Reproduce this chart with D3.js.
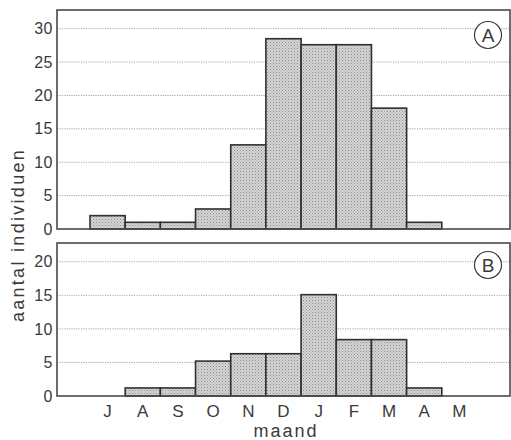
<!DOCTYPE html>
<head>
    <meta charset="utf-8">
    <title>maand</title>
    <script type="text/javascript" src="https://d3js.org/d3.v7.min.js"></script>
    <style>
        body { margin: 0; background: #fff; }
        text { font-family: "Liberation Sans", Arial, sans-serif; fill: #3a3a3a; }
    </style>
</head>
<body>
<div id="container"></div>
<script>
    //-----------------------------DATA------------------------------//
    const months = ["J", "A", "S", "O", "N", "D", "J2", "F", "M", "A2", "M2"];
    const monthLabels = ["J", "A", "S", "O", "N", "D", "J", "F", "M", "A", "M"];
    const valuesA = [2, 1, 1, 3, 12.6, 28.5, 27.6, 27.6, 18.1, 1, 0];
    const valuesB = [0, 1.2, 1.2, 5.2, 6.3, 6.3, 15.1, 8.4, 8.4, 1.2, 0];
    const ticksA = [0, 5, 10, 15, 20, 25, 30];
    const ticksB = [0, 5, 10, 15, 20];

    //-----------------------------SVG-------------------------------//
    const width = 511;
    const height = 440;
    const frameLeft = 57;
    const frameRight = 510;

    const svg = d3.select("div#container").append("svg")
        .attr("width", width)
        .attr("height", height);

    // stipple fill for the bars
    const pat = svg.append("defs").append("pattern")
        .attr("id", "stipple")
        .attr("width", 3)
        .attr("height", 3)
        .attr("patternUnits", "userSpaceOnUse");
    pat.append("rect").attr("width", 3).attr("height", 3).attr("fill", "#d6d6d6");
    pat.append("rect").attr("x", 0).attr("y", 0).attr("width", 1).attr("height", 1).attr("fill", "#8a8a8a");
    pat.append("rect").attr("x", 1.5).attr("y", 1.5).attr("width", 1).attr("height", 1).attr("fill", "#9a9a9a");

    const x = d3.scaleBand().domain(months).range([90, 477]).padding(0);

    //----------------------------PANELS-----------------------------//
    function panel(values, ticks, top, bottom, maxY, letter, letterY) {
        const y = d3.scaleLinear().domain([0, maxY]).range([bottom, top]);
        const g = svg.append("g");

        // dotted grid lines
        g.selectAll(".grid")
            .data(ticks.filter(t => t > 0))
            .enter()
            .append("line")
            .attr("x1", frameLeft)
            .attr("x2", frameRight)
            .attr("y1", d => y(d))
            .attr("y2", d => y(d))
            .attr("stroke", "#8c8c8c")
            .attr("stroke-width", 0.8)
            .attr("stroke-dasharray", "1.2,1.2");

        // bars
        g.selectAll(".bar")
            .data(values.map((v, i) => ({ m: months[i], v: v })).filter(d => d.v > 0))
            .enter()
            .append("rect")
            .attr("x", d => x(d.m))
            .attr("y", d => y(d.v))
            .attr("width", x.bandwidth())
            .attr("height", d => y(0) - y(d.v))
            .attr("fill", "url(#stipple)")
            .attr("stroke", "#303030")
            .attr("stroke-width", 1.6);

        // frame
        g.append("rect")
            .attr("x", frameLeft)
            .attr("y", top)
            .attr("width", frameRight - frameLeft)
            .attr("height", bottom - top)
            .attr("fill", "none")
            .attr("stroke", "#4a4a4a")
            .attr("stroke-width", 1.6);

        // y axis labels
        const yaxis = d3.axisLeft(y).tickValues(ticks).tickSize(0).tickPadding(4);
        const ax = g.append("g")
            .attr("transform", "translate(" + frameLeft + ",0)")
            .call(yaxis);
        ax.select(".domain").remove();
        ax.selectAll("text")
            .attr("font-size", 16)
            .style("font-family", "'Liberation Sans', Arial, sans-serif")
            .style("letter-spacing", "0.5px")
            .attr("fill", "#3a3a3a");

        // panel letter
        g.append("circle")
            .attr("cx", 488)
            .attr("cy", letterY)
            .attr("r", 13.5)
            .attr("fill", "#fff")
            .attr("stroke", "#3a3a3a")
            .attr("stroke-width", 1.2);
        g.append("text")
            .attr("x", 488)
            .attr("y", letterY + 7)
            .attr("text-anchor", "middle")
            .attr("font-size", 19)
            .text(letter);

        return y;
    }

    panel(valuesA, ticksA, 10, 229, 32.8, "A", 35);
    panel(valuesB, ticksB, 243, 396, 22.8, "B", 265);

    //-----------------------------AXES------------------------------//
    const xaxis = d3.axisBottom(x).tickSize(0).tickPadding(7)
        .tickFormat((d, i) => monthLabels[i]);
    const xg = svg.append("g")
        .attr("transform", "translate(0,398)")
        .call(xaxis);
    xg.select(".domain").remove();
    xg.selectAll("text")
        .attr("font-size", 17)
        .style("font-family", "'Liberation Sans', Arial, sans-serif")
        .attr("fill", "#3a3a3a");

    svg.append("text")
        .attr("x", 286)
        .attr("y", 437)
        .attr("text-anchor", "middle")
        .attr("font-size", 18)
        .style("letter-spacing", "2px")
        .text("maand");

    svg.append("text")
        .attr("transform", "rotate(-90)")
        .attr("x", -235)
        .attr("y", 24)
        .attr("text-anchor", "middle")
        .attr("font-size", 18)
        .style("letter-spacing", "2.3px")
        .text("aantal individuen");
</script>
</body>
